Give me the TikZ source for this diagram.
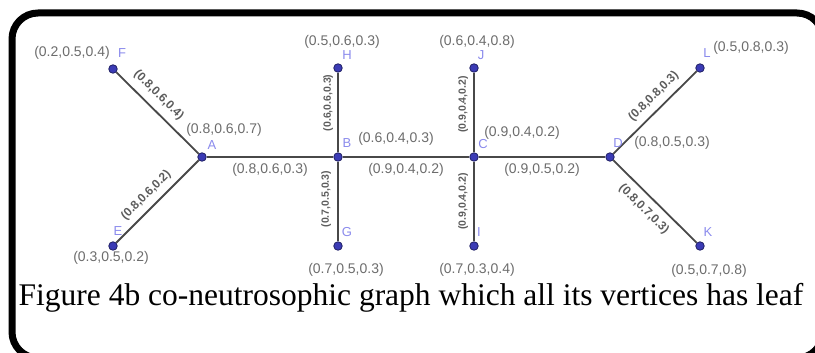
\documentclass[tikz,border=0pt]{standalone}
\usepackage{fontspec}
\setmainfont{Liberation Serif}
\setsansfont{Liberation Sans}
\usetikzlibrary{positioning}
\definecolor{ink}{HTML}{000000}
\definecolor{wire}{HTML}{484848}
\definecolor{grey}{HTML}{6C6C6C}
\definecolor{dot}{HTML}{3B3BB5}
\definecolor{lilac}{HTML}{8A8AEC}
\tikzset{
  x=1pt,y=-1pt,
  frame/.style={draw=ink,line width=7pt,rounded corners=26pt},
  vertex/.style={circle,fill=dot,draw=dot!55!black,line width=.8pt,inner sep=0pt,minimum size=8.5pt},
  wire/.style={draw=wire,line width=1.8pt},
  vname/.style={font=\sffamily\fontsize{13}{13}\selectfont,text=lilac,inner sep=0pt},
  vval/.style={font=\sffamily\fontsize{14}{14}\selectfont,text=grey,inner sep=0pt},
  flat/.style={vval,below=5pt},
  tilt/.style={font=\sffamily\bfseries\fontsize{12}{12}\selectfont,text=grey!85!black,sloped,inner sep=0pt},
  upright/.style={tilt,font=\sffamily\bfseries\fontsize{10.5}{10.5}\selectfont},
  caption/.style={font=\fontsize{31.5}{36}\selectfont,text=ink,inner sep=0pt}
}
\begin{document}
\begin{tikzpicture}
\useasboundingbox (0,0) rectangle (815,353);
\clip (0,0) rectangle (815,353);
\draw[frame] (12,13) rectangle (823,358);

% vertices
\node[vertex] (F) at (113,69) {};
\node[vertex] (A) at (202,157) {};
\node[vertex] (E) at (113,246) {};
\node[vertex] (B) at (338,157) {};
\node[vertex] (H) at (338,68) {};
\node[vertex] (G) at (338,246) {};
\node[vertex] (C) at (474,157) {};
\node[vertex] (J) at (474,68) {};
\node[vertex] (I) at (474,246) {};
\node[vertex] (D) at (610,157) {};
\node[vertex] (L) at (700,68) {};
\node[vertex] (K) at (700,246) {};

% edges
\draw[wire] (F) -- node[tilt,above=7pt,pos=.4] (eFA) {(0.8,0.6,0.4)} (A);
\draw[wire] (E) -- node[tilt,above=6pt,pos=.47] (eEA) {(0.8,0.6,0.2)} (A);
\draw[wire] (A) -- node[flat] (eAB) {(0.8,0.6,0.3)} (B);
\draw[wire] (B) -- node[upright,above=4pt,pos=.62] (eBH) {(0.6,0.6,0.3)} (H);
\draw[wire] (G) -- node[upright,above=6pt,pos=.53] (eGB) {(0.7,0.5,0.3)} (B);
\draw[wire] (B) -- node[flat] (eBC) {(0.9,0.4,0.2)} (C);
\draw[wire] (C) -- node[upright,above=5pt,pos=.6] (eCJ) {(0.9,0.4,0.2)} (J);
\draw[wire] (I) -- node[upright,above=5pt,pos=.5] (eIC) {(0.9,0.4,0.2)} (C);
\draw[wire] (C) -- node[flat] (eCD) {(0.9,0.5,0.2)} (D);
\draw[wire] (D) -- node[tilt,above=6pt,pos=.59] (eDL) {(0.8,0.8,0.3)} (L);
\draw[wire] (D) -- node[tilt,below=7pt,pos=.48] (eDK) {(0.8,0.7,0.3)} (K);

% vertex names
\node[vname] (Fn) at (122,53) {F};
\node[vname] (An) at (212,145) {A};
\node[vname] (En) at (118,231) {E};
\node[vname] (Hn) at (347,55) {H};
\node[vname] (Bn) at (347,143) {B};
\node[vname] (Gn) at (347,232) {G};
\node[vname] (Jn) at (481,55) {J};
\node[vname] (Cn) at (483,144) {C};
\node[vname] (In) at (479,232) {I};
\node[vname] (Ln) at (707,53) {L};
\node[vname] (Dn) at (618,143) {D};
\node[vname] (Kn) at (708,232) {K};

% vertex values
\node[vval] (Fv) at (72,53) {(0.2,0.5,0.4)};
\node[vval] (Av) at (224,130) {(0.8,0.6,0.7)};
\node[vval] (Ev) at (111,258) {(0.3,0.5,0.2)};
\node[vval] (Hv) at (342,42) {(0.5,0.6,0.3)};
\node[vval] (Bv) at (396,139) {(0.6,0.4,0.3)};
\node[vval] (Gv) at (346,270) {(0.7,0.5,0.3)};
\node[vval] (Jv) at (477,42) {(0.6,0.4,0.8)};
\node[vval] (Cv) at (522,133) {(0.9,0.4,0.2)};
\node[vval] (Iv) at (477,270) {(0.7,0.3,0.4)};
\node[vval] (Lv) at (751,48) {(0.5,0.8,0.3)};
\node[vval] (Dv) at (672,143) {(0.8,0.5,0.3)};
\node[vval] (Kv) at (709,271) {(0.5,0.7,0.8)};

\node[caption] (cap) at (411,298) {Figure 4b co-neutrosophic graph which all its vertices has leaf};
\end{tikzpicture}
\end{document}
